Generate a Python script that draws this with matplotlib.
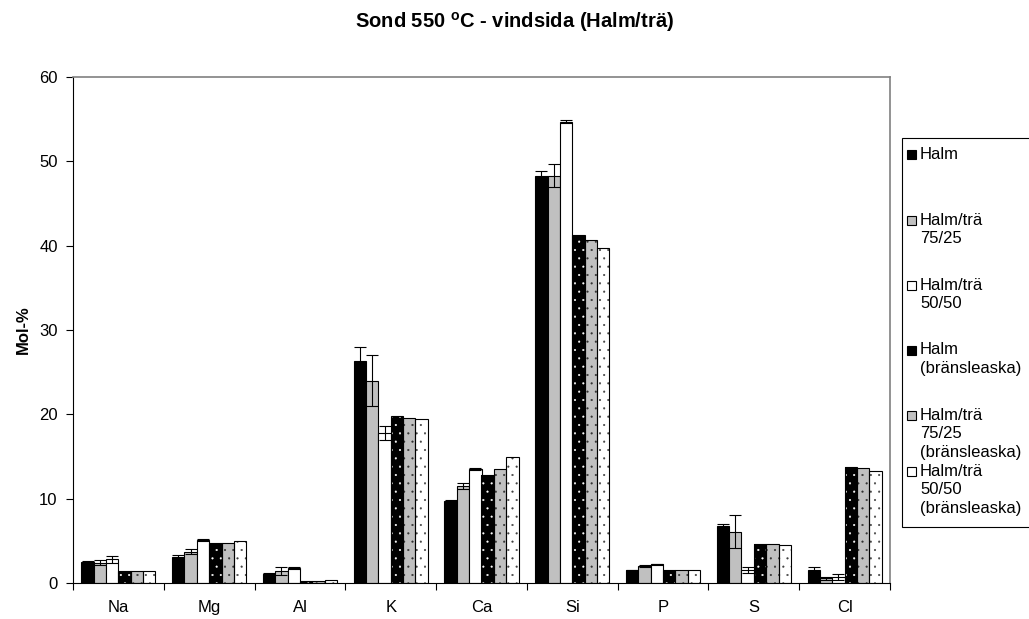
import matplotlib.pyplot as plt
from matplotlib.patches import Rectangle
import numpy as np

plt.rcParams['font.family'] = ['Liberation Sans', 'DejaVu Sans']
plt.rcParams['mathtext.fontset'] = 'custom'
plt.rcParams['mathtext.rm'] = 'Liberation Sans'
plt.rcParams['mathtext.bf'] = 'Liberation Sans:bold'
plt.rcParams['hatch.linewidth'] = 0.3

# Element composition, mol-%
elements = ['Na', 'Mg', 'Al', 'K', 'Ca', 'Si', 'P', 'S', 'Cl']
series = ['Halm', 'Halm/trä\n75/25', 'Halm/trä\n50/50',
          'Halm\n(bränsleaska)', 'Halm/trä\n75/25\n(bränsleaska)',
          'Halm/trä\n50/50\n(bränsleaska)']

halm = [2.5, 3.1, 1.1, 26.3, 9.7, 48.3, 1.5, 6.7, 1.5]
halm_err = [0.05, 0.2, 0.05, 1.65, 0.1, 0.6, 0.05, 0.35, 0.35]
tra75 = [2.4, 3.7, 1.4, 24.0, 11.5, 48.3, 2.0, 6.1, 0.55]
tra75_err = [0.3, 0.3, 0.5, 3.0, 0.35, 1.35, 0.1, 2.0, 0.2]
tra50 = [2.8, 5.1, 1.75, 17.8, 13.5, 54.7, 2.2, 1.5, 0.75]
tra50_err = [0.4, 0.1, 0.1, 0.8, 0.15, 0.2, 0.1, 0.35, 0.35]
halm_ash = [1.4, 4.7, 0.28, 19.8, 12.85, 41.3, 1.55, 4.6, 13.75]
tra75_ash = [1.4, 4.8, 0.2, 19.6, 13.55, 40.7, 1.55, 4.6, 13.6]
tra50_ash = [1.4, 5.0, 0.36, 19.4, 14.9, 39.7, 1.55, 4.55, 13.3]

values = [halm, tra75, tra50, halm_ash, tra75_ash, tra50_ash]
errors = [halm_err, tra75_err, tra50_err, None, None, None]
faces = ['black', '#C0C0C0', 'white', 'black', '#C0C0C0', 'white']
dots = [None, None, None, 'white', '#303030', '#404040']

W, H = 1029, 619
fig = plt.figure(figsize=(W / 100, H / 100), dpi=100)
ax = fig.add_axes([73 / W, 1 - 583 / H, 817 / W, 506 / H])

x = np.arange(len(elements))
w = 0.136
for i, (vals, err, fc, dc) in enumerate(zip(values, errors, faces, dots)):
    pos = x + (i - 2.5) * w
    if dc is None:
        ax.bar(pos, vals, w, color=fc, edgecolor='black', linewidth=0.8, zorder=2)
    else:
        # dotted fill first, then the black outline on top
        ax.bar(pos, vals, w, color=fc, edgecolor=dc, hatch='..', linewidth=0, zorder=2)
        ax.bar(pos, vals, w, fill=False, edgecolor='black', linewidth=0.8, zorder=3)
    if err is not None:
        ax.errorbar(pos, vals, yerr=err, fmt='none', ecolor='black',
                    elinewidth=0.8, capsize=4, capthick=0.8, zorder=4)

ax.set_xlim(-0.5, len(elements) - 0.5)
ax.set_ylim(0, 60)
ax.set_yticks(range(0, 61, 10))
ax.tick_params(axis='y', direction='out', length=5, width=0.8, pad=6, labelsize=12)

# ticks between categories, labels at the centres
ax.set_xticks(np.arange(-0.5, len(elements), 1))
ax.set_xticklabels([])
ax.set_xticks(x, minor=True)
ax.set_xticklabels(elements, minor=True)
ax.tick_params(axis='x', which='major', direction='out', length=5, width=0.8)
ax.tick_params(axis='x', which='minor', length=0, pad=12, labelsize=12)

for side in ['left', 'bottom']:
    ax.spines[side].set_color('black')
    ax.spines[side].set_linewidth(0.8)
for side in ['top', 'right']:
    ax.spines[side].set_color('#808080')
    ax.spines[side].set_linewidth(1.2)

ax.set_ylabel('Mol-%', fontsize=12, fontweight='bold')
ax.yaxis.set_label_coords(-0.052, 0.5)

fig.text(515 / W, 1 - 22 / H, r'Sond 550 $^{\mathbf{o}}$C - vindsida (Halm/trä)',
         fontsize=14.5, fontweight='bold', ha='center', va='center')

# legend box
fig.add_artist(Rectangle((902 / W, 1 - 527 / H), 140 / W, 389 / H,
                         transform=fig.transFigure, facecolor='white',
                         edgecolor='black', linewidth=0.8))
entry_y = [154, 220, 285, 350, 415, 471]
line_h = 18.5
for label, fc, ey in zip(series, faces, entry_y):
    fig.add_artist(Rectangle((907 / W, 1 - (ey + 4.5) / H), 9 / W, 9 / H,
                             transform=fig.transFigure, facecolor=fc,
                             edgecolor='black', linewidth=0.8))
    for k, line in enumerate(label.split('\n')):
        fig.text(920 / W, 1 - (ey + k * line_h) / H, line, fontsize=12,
                 ha='left', va='center')

fig.savefig('out.png', dpi=100)
